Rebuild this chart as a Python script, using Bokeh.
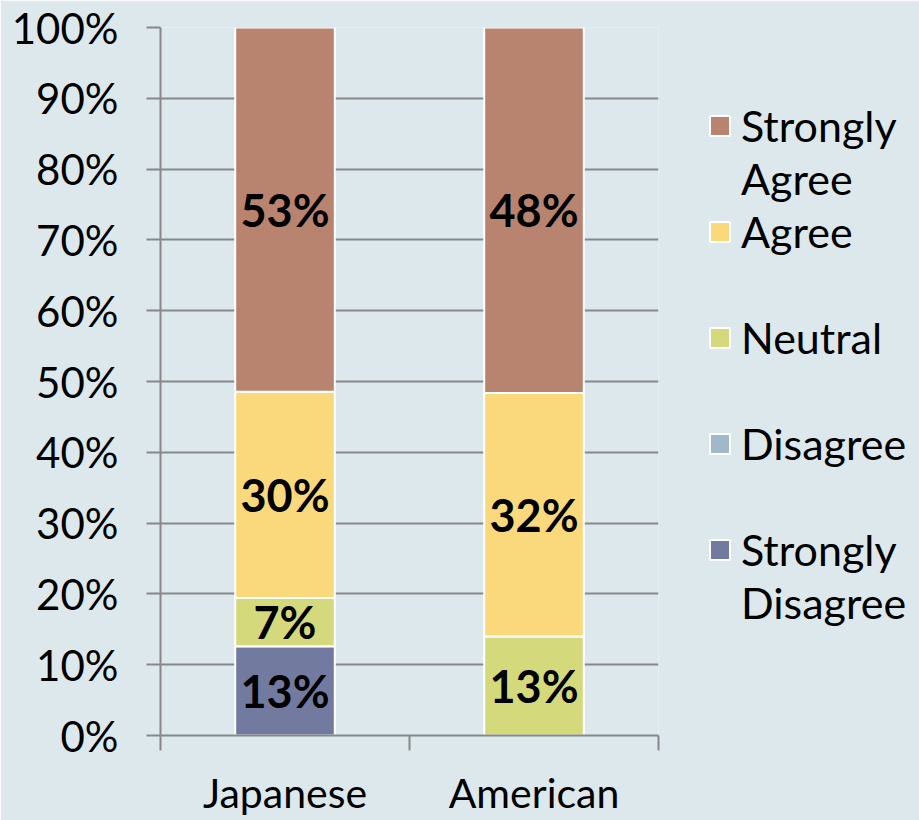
from bokeh.plotting import figure
from bokeh.models import (Range1d, FixedTicker, PrintfTickFormatter, ColumnDataSource,
                          Legend, LegendItem)
from bokeh.embed import file_html
from bokeh.resources import INLINE
from bokeh.core.properties import value

# ---- data ----
categories = ["Japanese", "American"]
series_names = ["Strongly Disagree", "Disagree", "Neutral", "Agree", "Strongly Agree"]
legend_lines = [["Strongly", "Disagree"], ["Disagree"], ["Neutral"], ["Agree"], ["Strongly", "Agree"]]
strongly_disagree = [13, 0]
disagree = [0, 0]
neutral = [7, 13]
agree = [30, 32]
strongly_agree = [53, 48]
colors = ["#727aa0", "#9fb8ca", "#d4da7c", "#fad97d", "#b8836f"]
y_ticks = [0, 10, 20, 30, 40, 50, 60, 70, 80, 90, 100]

series = [strongly_disagree, disagree, neutral, agree, strongly_agree]
n = len(categories)
totals = [sum(s[i] for s in series) for i in range(n)]
xs = [i + 0.5 for i in range(n)]

BG = "#dde8ec"
GRID = "#888888"
FONT = "Lato"

p = figure(frame_width=498, frame_height=708, x_range=Range1d(0, n), y_range=Range1d(0, 100),
           output_backend="svg", toolbar_location=None,
           min_border_left=160, min_border_top=27, min_border_bottom=85, min_border_right=261)
p.background_fill_color = BG
p.border_fill_color = BG
p.outline_line_color = None

renderers = []
lab_x, lab_y, lab_t = [], [], []
cum = [0.0] * n
for name, vals, col in zip(series_names, series, colors):
    bottoms = cum[:]
    tops = [cum[i] + vals[i] / totals[i] * 100.0 for i in range(n)]
    src = ColumnDataSource(dict(x=xs, bottom=bottoms, top=tops))
    r = p.vbar(x="x", width=0.4, bottom="bottom", top="top", source=src,
               fill_color=col, line_color="white", line_width=2)
    renderers.append(r)
    for i in range(n):
        if vals[i] > 0:
            lab_x.append(xs[i])
            lab_y.append((bottoms[i] + tops[i]) / 2)
            lab_t.append(f"{vals[i]}%")
    cum = tops

lsrc = ColumnDataSource(dict(x=lab_x, y=lab_y, t=lab_t))
p.text(x="x", y="y", text="t", source=lsrc, text_align="center", text_baseline="middle",
       text_font=value(FONT), text_font_style="bold", text_font_size="45px", text_color="black")

# ---- axes ----
xa = p.xaxis[0]
xa.ticker = FixedTicker(ticks=xs, minor_ticks=[float(i) for i in range(n + 1)])
xa.major_label_overrides = {xs[i]: categories[i] for i in range(n)}
xa.major_tick_line_color = None
xa.major_tick_out = 0
xa.major_tick_in = 0
xa.minor_tick_line_color = GRID
xa.minor_tick_line_width = 2
xa.minor_tick_out = 15
xa.minor_tick_in = 0
xa.axis_line_color = GRID
xa.axis_line_width = 2
xa.major_label_text_font = FONT
xa.major_label_text_font_size = "41px"
xa.major_label_text_color = "black"
xa.major_label_standoff = 17

ya = p.yaxis[0]
ya.ticker = FixedTicker(ticks=y_ticks)
ya.formatter = PrintfTickFormatter(format="%d%%")
ya.major_tick_line_color = GRID
ya.major_tick_line_width = 2
ya.major_tick_out = 14
ya.major_tick_in = 0
ya.minor_tick_line_color = None
ya.axis_line_color = GRID
ya.axis_line_width = 2
ya.major_label_text_font = FONT
ya.major_label_text_font_size = "42px"
ya.major_label_text_color = "black"
ya.major_label_standoff = 28

p.xgrid.grid_line_color = None
p.ygrid.ticker = FixedTicker(ticks=y_ticks)
p.ygrid.grid_line_color = GRID
p.ygrid.grid_line_width = 2

# ---- legend (one row per text line; continuation / spacer rows carry no swatch) ----
blank = p.vbar(x=[], width=0.4, top=[], fill_alpha=0, line_alpha=0)
items = []
order = [4, 3, 2, 1, 0]
for j, k in enumerate(order):
    lines = legend_lines[k]
    items.append(LegendItem(label=lines[0], renderers=[renderers[k]]))
    for extra in lines[1:]:
        items.append(LegendItem(label=extra, renderers=[blank]))
    if len(lines) == 1 and j < len(order) - 1:
        items.append(LegendItem(label=" ", renderers=[blank]))
legend = Legend(items=items, location=(49, 106), orientation="vertical")
legend.background_fill_alpha = 0
legend.border_line_color = None
legend.label_text_font = FONT
legend.label_text_font_size = "43px"
legend.label_text_color = "black"
legend.glyph_width = 25
legend.glyph_height = 25
legend.label_height = 53
legend.label_standoff = 9
legend.spacing = 0
legend.margin = 0
legend.padding = 0
p.add_layout(legend, "right")

open("out.html", "w").write(file_html(p, INLINE))
